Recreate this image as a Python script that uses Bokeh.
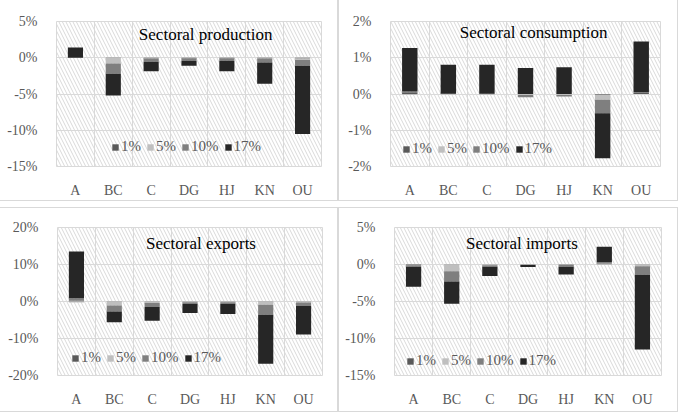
import numpy as np
from bokeh.plotting import figure
from bokeh.layouts import row, column
from bokeh.models import (Range1d, FixedTicker, CustomJSTickFormatter, PrintfTickFormatter,
                          BoxAnnotation, Label, ColumnDataSource)
from bokeh.embed import file_html
from bokeh.resources import INLINE

categories = ["A", "BC", "C", "DG", "HJ", "KN", "OU"]
series_labels = ["1%", "5%", "10%", "17%"]
series_colors = ["#595959", "#bfbfbf", "#7f7f7f", "#262626"]

# Sectoral production (% change, stacked contributions)
prod_1 = [0.0, -0.05, -0.1, -0.1, -0.1, -0.1, -0.1]
prod_5 = [0.0, -0.75, -0.05, 0.0, 0.0, -0.05, -0.2]
prod_10 = [0.0, -1.4, -0.4, -0.3, -0.3, -0.5, -0.8]
prod_17 = [1.4, -3.0, -1.3, -0.7, -1.45, -2.95, -9.4]

# Sectoral consumption
cons_1 = [0.05, 0.01, 0.01, 0.0, 0.0, -0.02, 0.03]
cons_5 = [-0.03, -0.02, -0.03, -0.03, -0.03, -0.14, 0.0]
cons_10 = [0.02, 0.0, 0.0, -0.06, -0.04, -0.37, 0.02]
cons_17 = [1.2, 0.8, 0.8, 0.72, 0.74, -1.24, 1.4]

# Sectoral exports
exp_1 = [0.2, -0.1, -0.1, -0.1, -0.1, -0.1, -0.1]
exp_5 = [-0.3, -1.0, -0.3, -0.1, -0.1, -0.8, -0.2]
exp_10 = [0.7, -1.6, -1.1, -0.5, -0.5, -2.7, -0.9]
exp_17 = [12.6, -2.9, -3.7, -2.4, -2.7, -13.2, -7.7]

# Sectoral imports
imp_1 = [-0.1, -0.05, -0.05, -0.05, -0.05, 0.05, -0.05]
imp_5 = [0.0, -0.85, -0.05, 0.0, 0.0, 0.05, -0.2]
imp_10 = [-0.2, -1.4, -0.2, -0.03, -0.25, 0.25, -1.15]
imp_17 = [-2.7, -3.0, -1.25, -0.25, -1.05, 2.05, -10.1]

FONT = "Liberation Serif"
GRID = "#d9d9d9"
TXT = "#595959"


def make_panel(title, series, ymin, ymax, ystep, w, h, borders, title_pos, legend_loc):
    left, right, top, bottom = borders
    p = figure(width=w, height=h, output_backend="svg", toolbar_location=None,
               x_range=Range1d(0, len(categories)), y_range=Range1d(ymin, ymax),
               min_border_left=left, min_border_right=right,
               min_border_top=top, min_border_bottom=bottom,
               background_fill_color="white", border_fill_color="white",
               outline_line_color=GRID,
               styles={"outline": "1px solid #d9d9d9", "outline-offset": "0px"})
    hatch = BoxAnnotation(fill_alpha=0, line_color=None, hatch_pattern="\\",
                          hatch_color=GRID, hatch_scale=7, hatch_weight=1,
                          level="underlay")
    p.add_layout(hatch)

    xs = np.arange(len(categories)) + 0.5
    pos = np.zeros(len(categories))
    neg = np.zeros(len(categories))
    for lab, col, vals in zip(series_labels, series_colors, series):
        v = np.array(vals, dtype=float)
        bottom_ = np.where(v >= 0, pos, neg + v)
        top_ = np.where(v >= 0, pos + v, neg)
        pos = np.where(v >= 0, pos + v, pos)
        neg = np.where(v < 0, neg + v, neg)
        src = ColumnDataSource(dict(x=xs, top=top_, bottom=bottom_))
        p.vbar(x="x", top="top", bottom="bottom", width=0.4, source=src,
               fill_color=col, line_color=None, legend_label=lab)

    # axes
    p.xaxis.ticker = FixedTicker(ticks=list(xs))
    p.xaxis.formatter = CustomJSTickFormatter(args=dict(cats=categories),
                                              code="return cats[Math.round(tick - 0.5)];")
    p.yaxis.ticker = FixedTicker(ticks=list(np.arange(ymin, ymax + ystep / 2, ystep)))
    p.yaxis.formatter = PrintfTickFormatter(format="%d%%")
    for ax in (p.xaxis, p.yaxis):
        ax.axis_line_color = None
        ax.major_tick_line_color = None
        ax.minor_tick_line_color = None
        ax.major_label_text_font = FONT
        ax.major_label_text_font_size = "14px"
        ax.major_label_text_color = TXT
    p.xaxis.major_label_standoff = 10
    p.yaxis.major_label_standoff = 13

    p.xgrid.ticker = FixedTicker(ticks=list(range(len(categories) + 1)))
    p.ygrid.ticker = FixedTicker(ticks=list(np.arange(ymin, ymax + ystep / 2, ystep)))
    for g in (p.xgrid, p.ygrid):
        g.grid_line_color = GRID
        g.grid_line_width = 1

    p.add_layout(Label(x=title_pos[0], y=title_pos[1], text=title, text_align="center",
                       text_baseline="middle", text_font=FONT, text_font_size="17px",
                       text_color="black"))

    lg = p.legend[0]
    lg.orientation = "horizontal"
    lg.location = legend_loc
    lg.background_fill_alpha = 0
    lg.border_line_color = None
    lg.padding = 0
    lg.margin = 0
    lg.spacing = 5
    lg.label_standoff = 2
    lg.glyph_width = 8
    lg.glyph_height = 8
    lg.label_height = 14
    lg.label_text_font = FONT
    lg.label_text_font_size = "15px"
    lg.label_text_color = TXT
    return p


p1 = make_panel("Sectoral production", [prod_1, prod_5, prod_10, prod_17],
                -15, 5, 5, 337, 200, (56, 16, 21, 31), (3.94, 3.27), (55, 11))
p2 = make_panel("Sectoral consumption", [cons_1, cons_5, cons_10, cons_17],
                -2, 2, 1, 338, 200, (51, 17, 21, 34), (3.71, 1.69), (12, 9))
p3 = make_panel("Sectoral exports", [exp_1, exp_5, exp_10, exp_17],
                -20, 20, 10, 337, 203, (57, 15, 19, 36), (3.79, 15.7), (14, 9))
p4 = make_panel("Sectoral imports", [imp_1, imp_5, imp_10, imp_17],
                -15, 5, 5, 338, 203, (55, 16, 19, 34), (3.34, 2.9), (12, 6))

layout = column(row(p1, p2, spacing=2), row(p3, p4, spacing=2), spacing=8)

open("out.html", "w").write(file_html(layout, INLINE))
